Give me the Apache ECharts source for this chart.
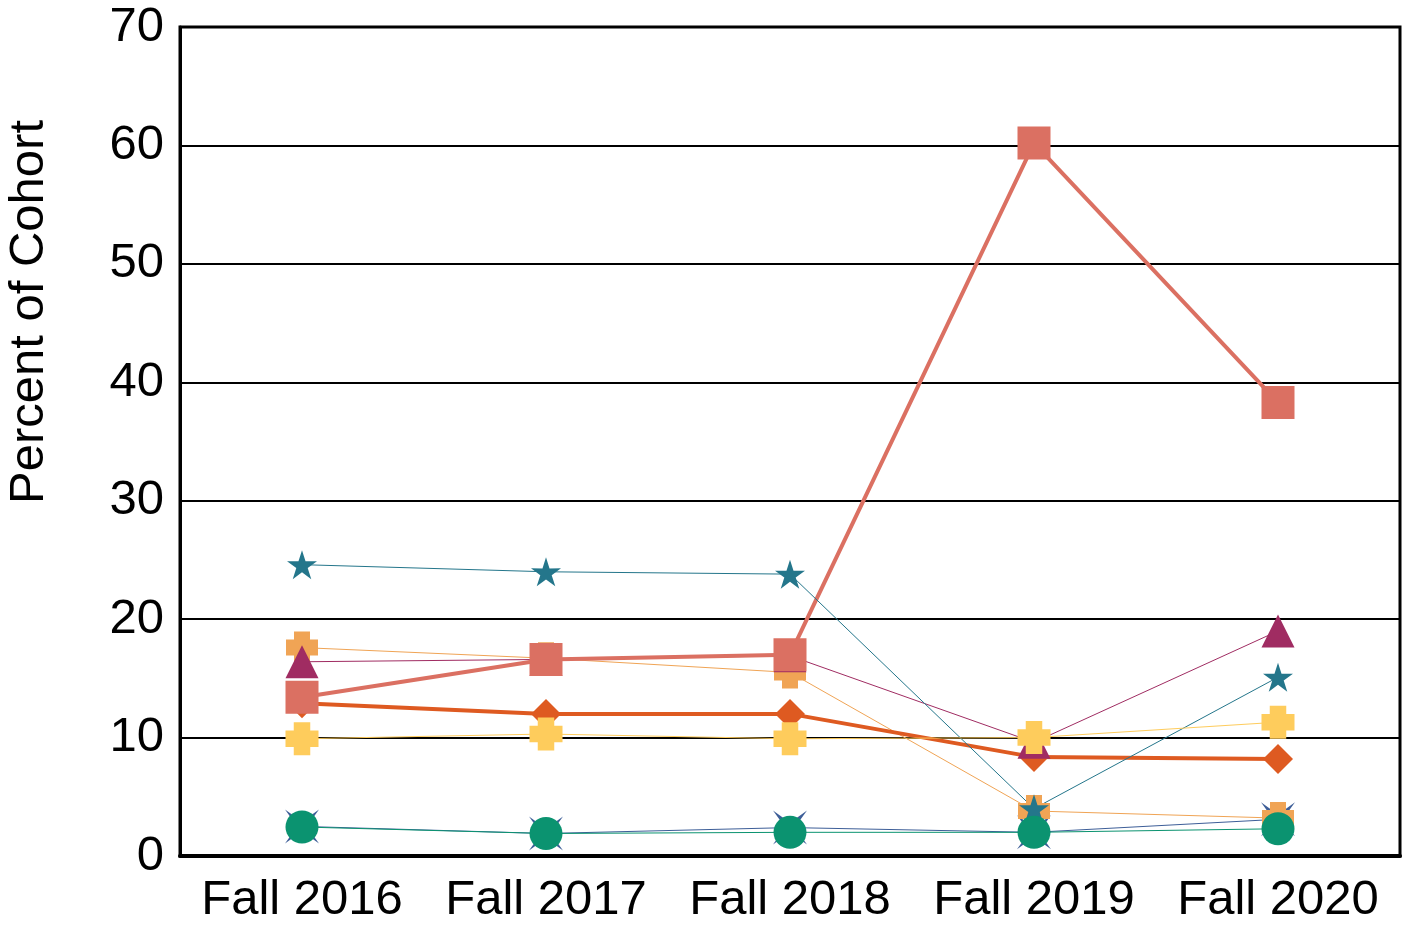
<!DOCTYPE html>
<html>
<head>
<meta charset="utf-8">
<script src="https://cdn.jsdelivr.net/npm/echarts@6/dist/echarts.min.js"></script>
<style>
html,body{margin:0;padding:0;background:#fff;}
#chart{width:1404px;height:925px;}
</style>
</head>
<body>
<div id="chart"></div>
<script>
var categories = ['Fall 2016', 'Fall 2017', 'Fall 2018', 'Fall 2019', 'Fall 2020'];
var yTicks = [0, 10, 20, 30, 40, 50, 60, 70];
var yTitle = 'Percent of Cohort';

var xSeries = [2.5, 1.9, 2.4, 2.0, 3.1];          // dark blue X
var orangePlus = [17.6, 16.7, 15.5, 3.8, 3.2];     // orange plus
var diamond = [12.9, 12.0, 12.0, 8.35, 8.2];       // orange-red diamond
var square = [13.4, 16.6, 17.0, 60.2, 38.3];       // salmon square
var triangle = [16.4, 16.6, 16.9, 9.6, 19.0];      // purple triangle
var star = [24.6, 24.0, 23.8, 4.0, 15.1];          // teal star
var circle = [2.45, 1.9, 2.0, 2.0, 2.3];           // green circle
var yellowPlus = [9.9, 10.3, 9.9, 10.0, 11.3];     // yellow plus

var PLUS = 'path://M0.25,0 L0.75,0 L0.75,0.25 L1,0.25 L1,0.75 L0.75,0.75 L0.75,1 L0.25,1 L0.25,0.75 L0,0.75 L0,0.25 L0.25,0.25 Z';
var XMARK = 'path://M0,0 L0.5,0.36 L1,0 L0.64,0.5 L1,1 L0.5,0.64 L0,1 L0.36,0.5 Z';
var STAR = 'path://M0,-1 L0.223,-0.307 L0.951,-0.309 L0.361,0.117 L0.588,0.809 L0,0.38 L-0.588,0.809 L-0.361,0.117 L-0.951,-0.309 L-0.223,-0.307 Z';

function mk(name, data, color, symbol, size, width) {
  return {
    name: name, type: 'line', data: data, symbol: symbol, symbolSize: size,
    showSymbol: true, animation: false,
    lineStyle: { color: color, width: width },
    itemStyle: { color: color, opacity: 1 },
    emphasis: { disabled: true }
  };
}

var FONT = 'Liberation Sans, Arial, sans-serif';
var chart = echarts.init(document.getElementById('chart'), null, { renderer: 'canvas' });
chart.setOption({
  backgroundColor: '#fff',
  animation: false,
  grid: { left: 180, right: 4, top: 27, bottom: 68, show: true, borderColor: '#000', borderWidth: 3, backgroundColor: 'transparent' },
  xAxis: {
    type: 'category', data: categories, boundaryGap: true,
    axisLine: { show: true, lineStyle: { color: '#000', width: 4 } },
    axisTick: { show: false },
    axisLabel: { color: '#000', fontSize: 49, fontFamily: FONT, margin: 20, interval: 0 },
    splitLine: { show: false }
  },
  yAxis: {
    type: 'value', min: yTicks[0], max: yTicks[yTicks.length - 1], interval: 10,
    axisLine: { show: true, lineStyle: { color: '#000', width: 3 } },
    axisTick: { show: false },
    axisLabel: { color: '#000', fontSize: 49, fontFamily: FONT, margin: 16 },
    splitLine: { show: true, lineStyle: { color: '#000', width: 2 } }
  },
  graphic: [{
    type: 'text', x: 29, y: 312, rotation: Math.PI / 2,
    style: { text: yTitle, fill: '#000', font: '49px "Liberation Sans", Arial, sans-serif', textAlign: 'center', textVerticalAlign: 'middle' }
  }],
  series: [
    mk('X', xSeries, '#3D5E98', XMARK, 34, 1),
    mk('Orange plus', orangePlus, '#F0A455', PLUS, 32, 1),
    mk('Diamond', diamond, '#DE5A21', 'diamond', 30, 4),
    mk('Triangle', triangle, '#A02C62', 'triangle', 33, 1),
    mk('Square', square, '#DB7062', 'rect', 33, 4),
    mk('Star', star, '#24768B', STAR, [30, 29], 1),
    mk('Circle', circle, '#0B9370', 'circle', 33, 1),
    mk('Yellow plus', yellowPlus, '#FECC5C', PLUS, 33, 1)
  ]
});
</script>
</body>
</html>
